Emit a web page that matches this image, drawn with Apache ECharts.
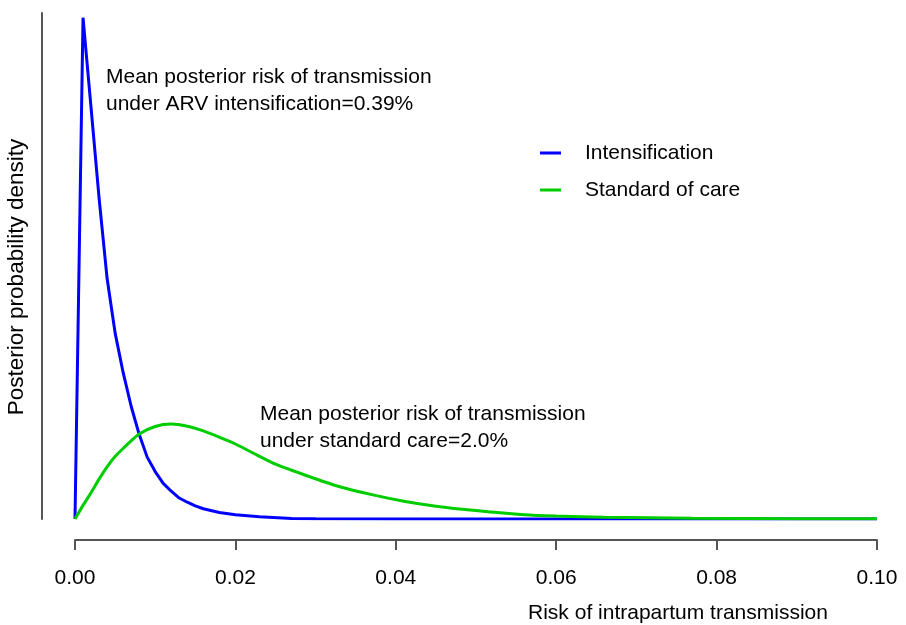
<!DOCTYPE html>
<html>
<head>
<meta charset="utf-8">
<title>Posterior risk of intrapartum transmission</title>
<script src="https://cdn.jsdelivr.net/npm/echarts@6/dist/echarts.min.js"></script>
<style>
  html, body { margin: 0; padding: 0; background: #fff; }
  #chart { width: 906px; height: 625px; }
</style>
</head>
<body>
<div id="chart"></div>
<script>
// Risk grid (x) and posterior density for each arm
const intensRisk = [0, 0.001, 0.002, 0.003, 0.004, 0.005, 0.006, 0.007, 0.008, 0.009, 0.010,
  0.011, 0.012, 0.013, 0.014, 0.015, 0.016, 0.018, 0.020, 0.023, 0.027, 0.030, 0.040, 0.050,
  0.060, 0.070, 0.080, 0.090, 0.100];
const intensDensity = [0, 191.2, 156.9, 122.5, 91.8, 71.0, 55.9, 43.0, 32.3, 23.6, 18.1,
  13.6, 10.6, 8.0, 6.4, 5.0, 3.9, 2.5, 1.6, 0.9, 0.2, 0.1, 0, 0,
  0, 0, 0, 0, 0];

const socRisk = [0, 0.001, 0.002, 0.003, 0.004, 0.005, 0.006, 0.008, 0.010, 0.012, 0.014, 0.016,
  0.018, 0.020, 0.023, 0.025, 0.029, 0.033, 0.037, 0.041, 0.045, 0.050, 0.056, 0.060, 0.066,
  0.077, 0.090, 0.100];
const socDensity = [0, 5.2, 10.0, 15.2, 19.9, 23.8, 26.9, 32.4, 35.3, 36.2, 35.4, 33.6,
  31.2, 28.6, 23.9, 20.9, 16.4, 12.3, 9.3, 6.8, 4.9, 3.2, 1.6, 1.1, 0.7,
  0.3, 0.1, 0.05];

const seriesNames = ['Intensification', 'Standard of care'];
const xTicks = [0, 0.02, 0.04, 0.06, 0.08, 0.10];

const annotationARV = 'Mean posterior risk of transmission\nunder ARV intensification=0.39%';
const annotationSOC = 'Mean posterior risk of transmission\nunder standard care=2.0%';

const FONT = '"Liberation Sans", Arial, Helvetica, sans-serif';

function pairs(xs, ys) {
  return xs.map((x, i) => [x, ys[i]]);
}

const chart = echarts.init(document.getElementById('chart'), null, { renderer: 'canvas' });

chart.setOption({
  animation: false,
  backgroundColor: '#ffffff',
  textStyle: { fontFamily: FONT },
  grid: { left: 75, right: 29, top: 13, bottom: 106, containLabel: false, outerBoundsMode: 'none' },
  legend: {
    data: seriesNames,
    orient: 'vertical',
    left: 535,
    top: 137,
    itemWidth: 21,
    itemHeight: 3,
    itemGap: 15,
    icon: 'rect',
    selectedMode: false,
    textStyle: { fontFamily: FONT, fontSize: 21, color: '#000', lineHeight: 22, padding: [0, 0, 0, 19] }
  },
  xAxis: {
    type: 'value',
    min: 0,
    max: 0.1,
    interval: 0.02,
    offset: 21,
    name: 'Risk of intrapartum transmission',
    nameLocation: 'middle',
    nameGap: 63,
    nameTextStyle: { fontFamily: FONT, fontSize: 21, color: '#000', padding: [0, 0, 0, 404] },
    axisLine: { show: true, onZero: false, lineStyle: { color: '#555', width: 2 } },
    axisTick: { show: true, length: 10, lineStyle: { color: '#555', width: 2 } },
    axisLabel: {
      fontFamily: FONT, fontSize: 21, color: '#000', margin: 28,
      formatter: v => (xTicks.some(t => Math.abs(t - v) < 1e-9) ? v.toFixed(2) : '')
    },
    splitLine: { show: false }
  },
  yAxis: {
    type: 'value',
    min: 0,
    max: 193,
    offset: 33,
    name: 'Posterior probability density',
    nameLocation: 'middle',
    nameRotate: 90,
    nameGap: 14,
    nameTextStyle: { fontFamily: FONT, fontSize: 22.5, color: '#000', padding: [0, 22, 0, 0] },
    axisLine: { show: true, onZero: false, lineStyle: { color: '#555', width: 2 } },
    axisTick: { show: false },
    axisLabel: { show: false },
    splitLine: { show: false }
  },
  series: [
    {
      name: seriesNames[0],
      type: 'line',
      data: pairs(intensRisk, intensDensity),
      showSymbol: false,
      smooth: false,
      color: '#0000ff',
      lineStyle: { color: '#0000ff', width: 3 },
      z: 2
    },
    {
      name: seriesNames[1],
      type: 'line',
      data: pairs(socRisk, socDensity),
      showSymbol: false,
      smooth: 0.25,
      color: '#00cd00',
      lineStyle: { color: '#00cd00', width: 3 },
      z: 3
    }
  ],
  graphic: [
    {
      type: 'text',
      left: 106,
      top: 64,
      style: { text: annotationARV, font: '21px ' + FONT, lineHeight: 27, fill: '#000' }
    },
    {
      type: 'text',
      left: 260,
      top: 401,
      style: { text: annotationSOC, font: '21px ' + FONT, lineHeight: 27, fill: '#000' }
    }
  ]
});
</script>
</body>
</html>
